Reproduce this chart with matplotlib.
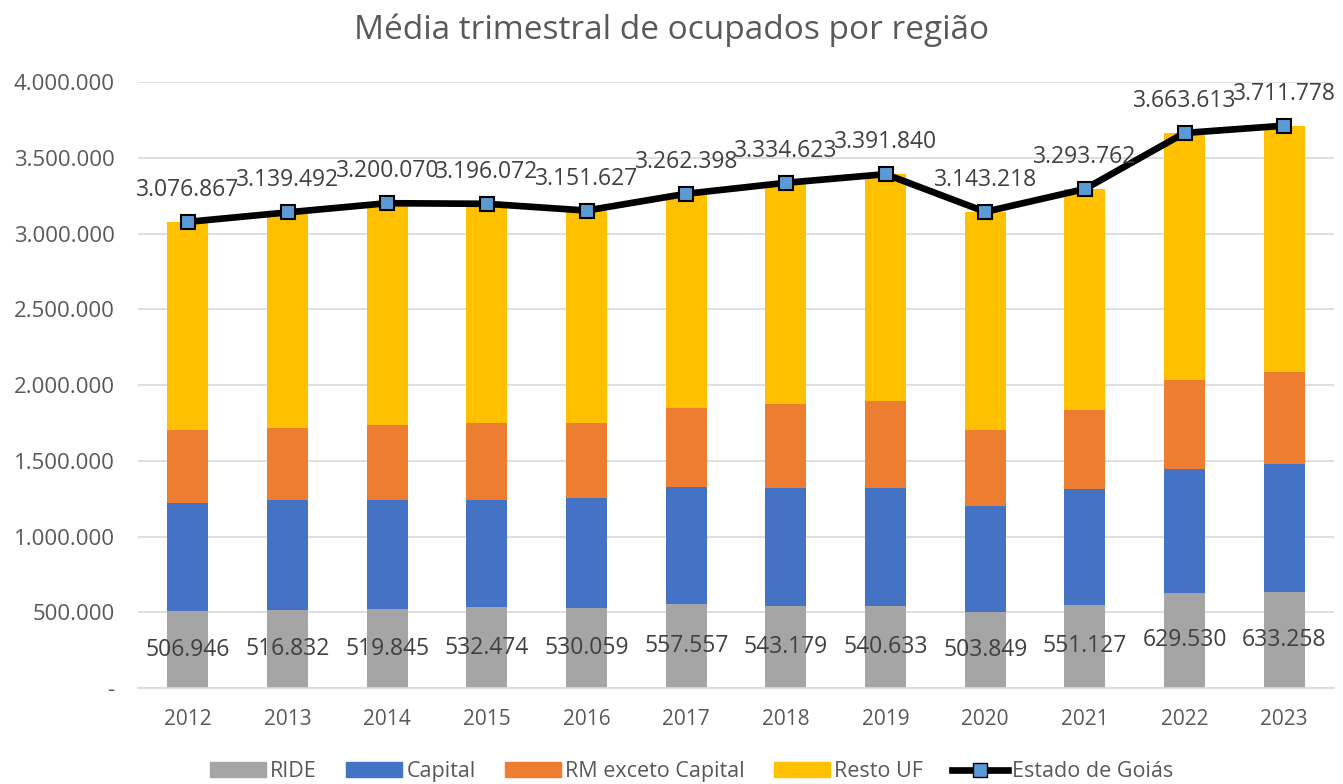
import numpy as np
import matplotlib
matplotlib.use('Agg')
import matplotlib.pyplot as plt
from matplotlib.lines import Line2D
from matplotlib.patches import Patch

plt.rcParams['font.family'] = ['Open Sans', 'DejaVu Sans']

# dados
anos = ['2012', '2013', '2014', '2015', '2016', '2017', '2018', '2019', '2020', '2021', '2022', '2023']
ride = [506946, 516832, 519845, 532474, 530059, 557557, 543179, 540633, 503849, 551127, 629530, 633258]
capital = [716000, 726000, 723000, 711000, 722000, 771000, 779000, 781000, 697000, 761000, 814000, 844000]
rm_exceto = [480000, 475000, 495000, 504000, 495000, 521000, 555000, 572000, 502000, 521000, 589000, 609000]
total = [3076867, 3139492, 3200070, 3196072, 3151627, 3262398, 3334623, 3391840, 3143218, 3293762, 3663613, 3711778]
resto_uf = [t - a - b - c for t, a, b, c in zip(total, ride, capital, rm_exceto)]

cores = ['#A5A5A5', '#4472C4', '#ED7D31', '#FFC000']
nomes = ['RIDE', 'Capital', 'RM exceto Capital', 'Resto UF']
texto = '#404040'
cinza = '#595959'

def fmt(v):
    return f'{v:,.0f}'.replace(',', '.')

fig = plt.figure(figsize=(13.43, 7.84), dpi=100)
ax = fig.add_axes([0.1028, 0.1224, 0.8905, 0.773])

x = np.arange(len(anos))
base = np.zeros(len(anos))
for serie, cor, nome in zip([ride, capital, rm_exceto, resto_uf], cores, nomes):
    ax.bar(x, serie, 0.41, bottom=base, color=cor, zorder=2, label=nome)
    base += np.array(serie)

ax.plot(x, total, color='black', lw=4.8, marker='s', markersize=10,
        markerfacecolor='#5B9BD5', markeredgecolor='black', markeredgewidth=1.5, zorder=4)

# rótulos
for i in range(len(anos)):
    ax.annotate(fmt(total[i]), (x[i], total[i]), xytext=(0, 23), textcoords='offset points',
                ha='center', va='center', fontsize=16.5, color=texto, zorder=5)
    ax.text(x[i], ride[i] / 2, fmt(ride[i]), ha='center', va='center', fontsize=16.5,
            color=texto, zorder=5)

ax.set_xlim(-0.5, len(anos) - 0.5)
ax.set_ylim(0, 4000000)
ax.set_xticks(x)
ax.set_xticklabels(anos, fontsize=15, color=cinza)
yt = np.arange(0, 4000001, 500000)
ax.set_yticks(yt)
ax.set_yticklabels(['-'] + [fmt(v) for v in yt[1:]], fontsize=16, color=cinza)
ax.tick_params(axis='y', length=0, pad=17)
ax.tick_params(axis='x', length=0, pad=15)
ax.grid(axis='y', color='#D9D9D9', lw=1.2, zorder=0)
for s in ['top', 'right', 'left']:
    ax.spines[s].set_visible(False)
ax.spines['bottom'].set_color('#D9D9D9')
ax.spines['bottom'].set_linewidth(1.2)

fig.text(0.5, 0.962, 'Média trimestral de ocupados por região', ha='center', va='center',
         fontsize=24, color=cinza)

handles = [Patch(color=c) for c in cores]
handles.append(Line2D([0], [0], color='black', lw=4.8, marker='s', markersize=10,
                      markerfacecolor='#5B9BD5', markeredgecolor='black'))
fig.legend(handles, nomes + ['Estado de Goiás'], loc='center', bbox_to_anchor=(0.515, 0.016),
           ncol=5, frameon=False, fontsize=15.5, labelcolor=cinza, handlelength=2.6,
           handleheight=0.65, columnspacing=1.35, handletextpad=0.2)

fig.savefig('out.png', dpi=100)
